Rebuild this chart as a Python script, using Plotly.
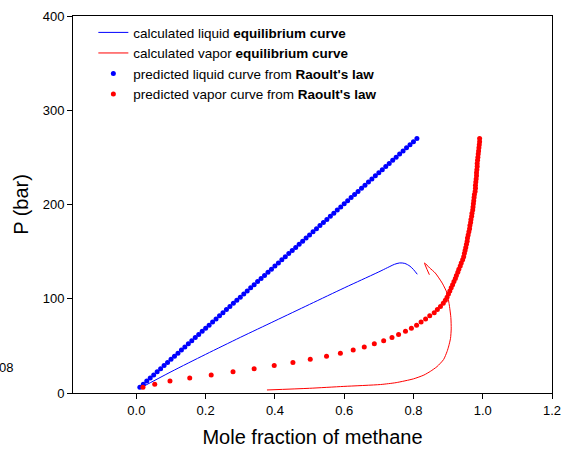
import plotly.graph_objects as go

# Raoult's law predictions (shared pressures)
raoult_P = [6.0, 9.3, 12.6, 15.9, 19.2, 22.5, 25.8, 29.1, 32.4, 35.7,
            39.0, 42.3, 45.6, 48.9, 52.2, 55.5, 58.8, 62.1, 65.4, 68.7,
            72.0, 75.3, 78.6, 81.9, 85.2, 88.5, 91.8, 95.1, 98.4, 101.7,
            105.0, 108.3, 111.6, 114.9, 118.2, 121.5, 124.8, 128.1, 131.4, 134.7,
            138.0, 141.3, 144.6, 147.9, 151.2, 154.5, 157.8, 161.1, 164.4, 167.7,
            171.0, 174.3, 177.6, 180.9, 184.2, 187.5, 190.8, 194.1, 197.4, 200.7,
            204.0, 207.3, 210.6, 213.9, 217.2, 220.5, 223.8, 227.1, 230.4, 233.7,
            237.0, 240.3, 243.6, 246.9, 250.2, 253.5, 256.8, 260.1, 263.4, 266.7,
            270.0]
raoult_liquid_x = [0.01, 0.02, 0.03, 0.04, 0.05, 0.06, 0.07, 0.08, 0.09, 0.10,
                   0.11, 0.12, 0.13, 0.14, 0.15, 0.16, 0.17, 0.18, 0.19, 0.20,
                   0.21, 0.22, 0.23, 0.24, 0.25, 0.26, 0.27, 0.28, 0.29, 0.30,
                   0.31, 0.32, 0.33, 0.34, 0.35, 0.36, 0.37, 0.38, 0.39, 0.40,
                   0.41, 0.42, 0.43, 0.44, 0.45, 0.46, 0.47, 0.48, 0.49, 0.50,
                   0.51, 0.52, 0.53, 0.54, 0.55, 0.56, 0.57, 0.58, 0.59, 0.60,
                   0.61, 0.62, 0.63, 0.64, 0.65, 0.66, 0.67, 0.68, 0.69, 0.70,
                   0.71, 0.72, 0.73, 0.74, 0.75, 0.76, 0.77, 0.78, 0.79, 0.80,
                   0.81]
raoult_vapor_y = [0.019, 0.053, 0.097, 0.154, 0.216, 0.279, 0.340, 0.398, 0.452, 0.502,
                  0.549, 0.589, 0.626, 0.658, 0.687, 0.714, 0.738, 0.757, 0.777, 0.794,
                  0.809, 0.822, 0.835, 0.847, 0.860, 0.869, 0.878, 0.886, 0.892, 0.897,
                  0.901, 0.905, 0.909, 0.913, 0.917, 0.921, 0.924, 0.928, 0.931, 0.935,
                  0.938, 0.942, 0.945, 0.947, 0.949, 0.951, 0.953, 0.955, 0.956, 0.958,
                  0.960, 0.962, 0.963, 0.965, 0.966, 0.968, 0.969, 0.971, 0.972, 0.973,
                  0.974, 0.975, 0.976, 0.978, 0.979, 0.979, 0.980, 0.981, 0.982, 0.982,
                  0.983, 0.984, 0.984, 0.985, 0.986, 0.987, 0.988, 0.989, 0.990, 0.991,
                  0.991]

# Calculated equilibrium curves
calc_liquid_x = [0.01, 0.10, 0.20, 0.30, 0.40, 0.50, 0.60, 0.65, 0.70, 0.725,
                 0.745, 0.76, 0.775, 0.79, 0.80, 0.811]
calc_liquid_P = [5.0, 22.5, 41.0, 59.0, 76.5, 94.0, 111.5, 120.0, 128.5, 133.0,
                 136.5, 138.0, 137.5, 134.5, 131.0, 126.0]
calc_vapor_y = [0.377, 0.50, 0.599, 0.705, 0.75, 0.80, 0.83, 0.849, 0.868, 0.887,
                0.897, 0.902, 0.907, 0.909, 0.908, 0.904, 0.897, 0.883, 0.863,
                0.847, 0.832, 0.846]
calc_vapor_P = [3.2, 5.0, 7.0, 9.0, 11.0, 15.0, 19.0, 23.0, 28.0, 35.5,
                44.0, 50.0, 58.0, 68.0, 80.0, 92.0, 106.0, 116.6, 127.3,
                132.6, 138.0, 125.5]

x_ticks = [0.0, 0.2, 0.4, 0.6, 0.8, 1.0, 1.2]
y_ticks = [0, 100, 200, 300, 400]

FONT = "Liberation Sans, Arial, sans-serif"

fig = go.Figure()
fig.add_trace(go.Scatter(x=calc_liquid_x, y=calc_liquid_P, mode="lines",
                         line=dict(color="#0000ff", width=1, shape="spline", smoothing=0.8),
                         name="calculated liquid <b>equilibrium curve</b>"))
fig.add_trace(go.Scatter(x=calc_vapor_y, y=calc_vapor_P, mode="lines",
                         line=dict(color="#ff0000", width=1, shape="spline", smoothing=0.6),
                         name="calculated vapor <b>equilibrium curve</b>"))
fig.add_trace(go.Scatter(x=raoult_liquid_x, y=raoult_P, mode="markers",
                         marker=dict(color="#0000ff", size=5),
                         name="predicted liquid curve from <b>Raoult's law</b>"))
fig.add_trace(go.Scatter(x=raoult_vapor_y, y=raoult_P, mode="markers",
                         marker=dict(color="#ff0000", size=5),
                         name="predicted vapor curve from <b>Raoult's law</b>"))

fig.update_layout(
    width=564, height=451,
    margin=dict(l=73, r=12, t=16, b=58, autoexpand=False),
    paper_bgcolor="white", plot_bgcolor="white",
    font=dict(family=FONT, size=13, color="black"),
    showlegend=True,
    legend=dict(x=0.0425, y=0.997, xanchor="left", yanchor="top",
                bgcolor="rgba(0,0,0,0)", font=dict(size=13.5), tracegroupgap=0,
                itemwidth=30),
    xaxis=dict(range=[-0.183, 1.2], tickvals=x_ticks, tickformat=".1f",
               showgrid=False, zeroline=False, showline=True, linecolor="black",
               linewidth=1, mirror=True, ticks="outside", ticklen=5, tickcolor="black",
               tickfont=dict(size=13),
               title=dict(text="Mole fraction of methane", font=dict(size=20), standoff=13)),
    yaxis=dict(range=[0, 400], tickvals=y_ticks,
               showgrid=False, zeroline=False, showline=True, linecolor="black",
               linewidth=1, mirror=True, ticks="outside", ticklen=5, tickcolor="black",
               tickfont=dict(size=13),
               title=dict(text="P (bar)", font=dict(size=20), standoff=8)),
)

fig.add_annotation(text="08", xref="paper", yref="paper", x=-0.158, y=0.067,
                   xanchor="left", yanchor="middle", showarrow=False,
                   font=dict(size=13, color="black"))

fig.write_html("out.html")
